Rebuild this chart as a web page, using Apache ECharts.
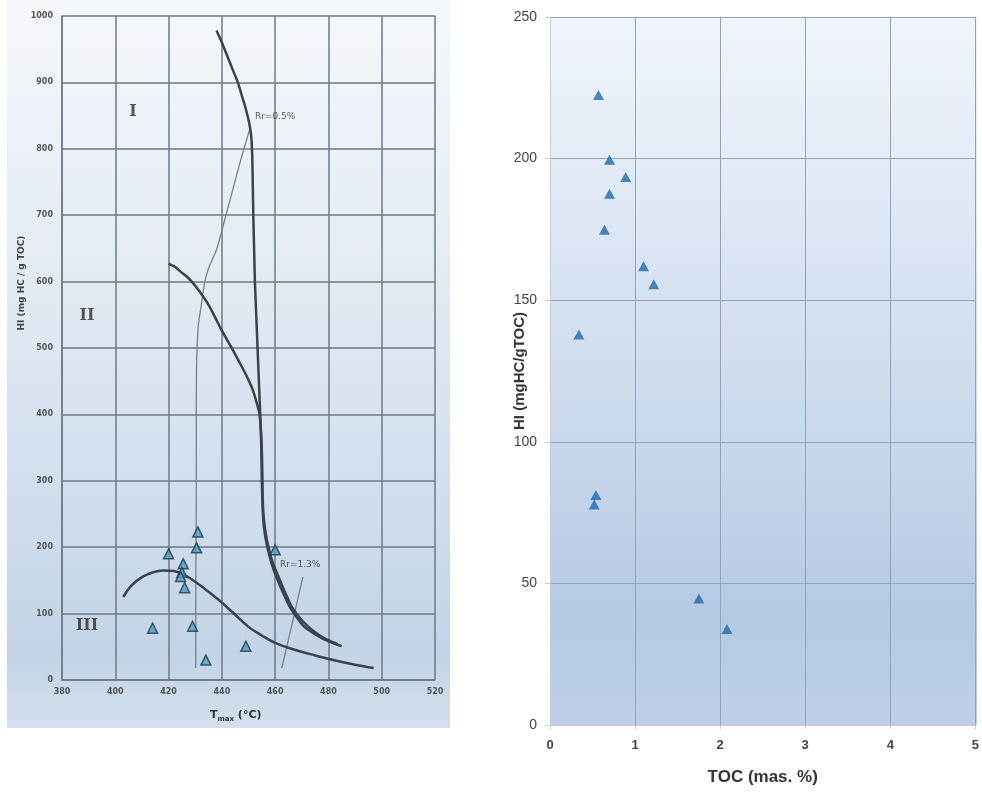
<!DOCTYPE html>
<html>
<head>
<meta charset="utf-8">
<script src="https://cdn.jsdelivr.net/npm/echarts@6/dist/echarts.min.js"></script>
<style>
html,body{margin:0;padding:0;background:#fff;}
#c{width:982px;height:798px;}
</style>
</head>
<body>
<div id="c"></div>
<script>
// ---- Left panel: HI vs Tmax ----
const tmaxTicks = [380, 400, 420, 440, 460, 480, 500, 520];
const hiTicksLeft = [0, 100, 200, 300, 400, 500, 600, 700, 800, 900, 1000];
const curveTypeI = [[438,978],[440,960],[442,940],[444,920],[446,900],[447.5,880],[449,860],[450.2,840],[451,820],[451.4,790],[451.6,750],[451.8,700],[452.1,650],[452.4,600],[452.9,550],[453.4,500],[453.9,450],[454.4,400],[454.8,350],[455,300],[455.3,260],[455.8,230],[456.8,205],[458,185],[459.5,165],[461.5,145],[463.5,127],[465.5,110],[468,95],[471,80],[474.5,70],[478,62],[481.5,56],[485,51]];
const curveTypeII = [[420,627],[422.5,622],[424.5,615],[426.7,608],[428.7,600],[431.5,586],[434.4,569],[437,550],[439.5,530],[442,512],[444,498],[446,483],[448,468],[450,452],[451.6,437],[452.9,420],[454,403],[454.6,380],[455,347],[455.2,310],[455.3,280],[455.6,250],[456.3,225],[457.5,200],[459,178],[461,158],[463.5,134],[466,112],[469,95],[472,82],[475,72],[478,64],[481,58],[483.5,54]];
const curveTypeIII = [[403,125],[406,142],[410,155],[414,162],[418,165],[422,164],[426,158],[430,148],[434,136],[439,120],[444,102],[450,80],[455,67],[460,56],[467,46],[475,37],[483,29],[490,23],[497,18]];
const lineRr05 = [[430.2,18],[430.2,100],[430.3,200],[430.4,300],[430.4,420],[430.5,470],[430.7,500],[431.2,535],[432,557],[432.8,580],[433.6,600],[435,620],[436.6,635],[438.1,649],[441,692],[444,737],[447,782],[450.5,830]];
const lineRr13 = [[462.5,18],[470.4,155]];
const sampleTmax = [420, 431, 430.5, 425.5, 425, 424.5, 426, 414, 429, 434, 449, 460];
const sampleHI_T = [190, 223, 199, 175, 162, 156, 139, 78, 81, 30, 51, 196];
const zoneLabels = [['I', 406.6, 855], ['II', 389.4, 549], ['III', 389.4, 81]];
const rrLabels = [['Rr=0.5%', 452.4, 848], ['Rr=1.3%', 461.8, 173]];

// ---- Right panel: HI vs TOC ----
const tocTicks = [0, 1, 2, 3, 4, 5];
const hiTicksRight = [0, 50, 100, 150, 200, 250];
const sampleTOC = [0.57, 0.70, 0.89, 0.70, 0.64, 1.10, 1.22, 0.34, 0.54, 0.52, 1.75, 2.08];
const sampleHI = [222.5, 199.6, 193.5, 187.6, 174.9, 162, 155.6, 137.9, 81.2, 77.9, 44.7, 33.9];

const chart = echarts.init(document.getElementById('c'), null, {renderer: 'canvas'});
const narrow = "'Liberation Sans Narrow', 'Liberation Sans', Arial, sans-serif";
const curveStyle = {color: '#3a434c', width: 2.5};

const option = {
  animation: false,
  backgroundColor: '#ffffff',
  graphic: [
    {type: 'rect', z: -10, silent: true, shape: {x: 7, y: 0, width: 443, height: 728},
     style: {fill: new echarts.graphic.LinearGradient(0, 0, 0, 1, [
       {offset: 0, color: '#f5f8fb'}, {offset: 0.45, color: '#dfe8f2'},
       {offset: 0.9, color: '#c3d4e7'}, {offset: 1, color: '#d3dfec'}])}},
    {type: 'rect', z: -10, silent: true, shape: {x: 550, y: 17, width: 427, height: 708},
     style: {fill: new echarts.graphic.LinearGradient(0, 0, 0, 1, [
       {offset: 0, color: '#f0f5fb'}, {offset: 0.5, color: '#d0ddef'},
       {offset: 0.85, color: '#b4c9e3'}, {offset: 1, color: '#bdd0e7'}])}},
    {type: 'text', left: 210, top: 710, style: {
      text: '{t|T}{s|max}{t| (°C)}',
      rich: {t: {fontSize: 11, fontWeight: 'bold', fill: '#333', fontFamily: 'DejaVu Sans'},
             s: {fontSize: 7, fontWeight: 'bold', fill: '#333', padding: [8, 0, 0, 0], fontFamily: 'DejaVu Sans'}}}}
  ],
  grid: [
    {left: 62, right: 547, top: 16, bottom: 118},
    {left: 550, right: 5, top: 17, bottom: 73}
  ],
  xAxis: [
    {gridIndex: 0, type: 'value', min: tmaxTicks[0], max: tmaxTicks[tmaxTicks.length - 1], interval: 20,
     axisLine: {show: true, lineStyle: {color: '#6e7a84', width: 1.5}},
     axisTick: {show: false},
     axisLabel: {fontSize: 8, fontWeight: 'bold', color: '#555', margin: 8, fontFamily: 'DejaVu Sans',
       formatter: v => String(v)},
     splitLine: {show: true, lineStyle: {color: '#6e7a84', width: 1.5}}},
    {gridIndex: 1, type: 'value', min: tocTicks[0], max: tocTicks[tocTicks.length - 1], interval: 1,
     name: 'TOC (mas. %)', nameLocation: 'middle', nameGap: 44,
     nameTextStyle: {fontSize: 17, fontWeight: 'bold', color: '#333', fontFamily: narrow},
     axisLine: {show: true, lineStyle: {color: '#c8ccd0', width: 1}},
     axisTick: {show: true, length: 4, lineStyle: {color: '#c8ccd0'}},
     axisLabel: {fontSize: 13, fontWeight: 'bold', color: '#444', margin: 14, fontFamily: narrow,
       formatter: v => String(v)},
     splitLine: {show: true, lineStyle: {color: '#8fa3ba', width: 1}}}
  ],
  yAxis: [
    {gridIndex: 0, type: 'value', min: hiTicksLeft[0], max: hiTicksLeft[hiTicksLeft.length - 1], interval: 100,
     name: 'HI (mg HC / g TOC)', nameLocation: 'middle', nameGap: 36, nameRotate: 90,
     nameTextStyle: {fontSize: 9, fontWeight: 'bold', color: '#444', fontFamily: 'DejaVu Sans', padding: [0, 0, 0, 130]},
     axisLine: {show: true, lineStyle: {color: '#6e7a84', width: 1.5}},
     axisTick: {show: false},
     axisLabel: {fontSize: 8, fontWeight: 'bold', color: '#555', margin: 9, fontFamily: 'DejaVu Sans',
       formatter: v => String(v)},
     splitLine: {show: true, lineStyle: {color: '#6e7a84', width: 1.5}}},
    {gridIndex: 1, type: 'value', min: hiTicksRight[0], max: hiTicksRight[hiTicksRight.length - 1], interval: 50,
     name: 'HI (mgHC/gTOC)', nameLocation: 'middle', nameGap: 23, nameRotate: 90, nameMoveOverlap: false,
     nameTextStyle: {fontSize: 15, fontWeight: 'bold', color: '#333', fontFamily: narrow},
     axisLine: {show: true, lineStyle: {color: '#c8ccd0', width: 1}},
     axisTick: {show: true, length: 5, lineStyle: {color: '#c8ccd0'}},
     axisLabel: {fontSize: 14, color: '#444', margin: 13, fontFamily: narrow,
       formatter: v => String(v)},
     splitLine: {show: true, lineStyle: {color: '#8fa3ba', width: 1}}}
  ],
  series: [
    {type: 'line', xAxisIndex: 0, yAxisIndex: 0, data: lineRr05, smooth: 0.2, symbol: 'none',
     lineStyle: {color: '#76808a', width: 1.3}, z: 3},
    {type: 'line', xAxisIndex: 0, yAxisIndex: 0, data: lineRr13, symbol: 'none',
     lineStyle: {color: '#76808a', width: 1.3}, z: 3},
    {type: 'line', xAxisIndex: 0, yAxisIndex: 0, data: curveTypeI, smooth: 0.2, symbol: 'none',
     lineStyle: curveStyle, z: 4},
    {type: 'line', xAxisIndex: 0, yAxisIndex: 0, data: curveTypeII, smooth: 0.2, symbol: 'none',
     lineStyle: curveStyle, z: 4},
    {type: 'line', xAxisIndex: 0, yAxisIndex: 0, data: curveTypeIII, smooth: 0.4, symbol: 'none',
     lineStyle: curveStyle, z: 4},
    {type: 'scatter', xAxisIndex: 0, yAxisIndex: 0, symbol: 'triangle', symbolSize: [10, 10],
     data: sampleTmax.map((t, i) => [t, sampleHI_T[i]]),
     itemStyle: {color: '#4b9fc5', borderColor: '#1e3a4f', borderWidth: 1.5}, z: 5},
    {type: 'scatter', xAxisIndex: 0, yAxisIndex: 0, symbolSize: 0, silent: true,
     data: zoneLabels.map(d => ({value: [d[1], d[2]], name: d[0]})),
     label: {show: true, position: 'inside', formatter: p => p.name,
       fontSize: 16, fontWeight: 'bold', color: '#2c2c2c', fontFamily: 'DejaVu Serif'}, z: 6},
    {type: 'scatter', xAxisIndex: 0, yAxisIndex: 0, symbolSize: 0, silent: true,
     data: rrLabels.map(d => ({value: [d[1], d[2]], name: d[0]})),
     label: {show: true, position: 'right', distance: 0, formatter: p => p.name,
       fontSize: 9, color: '#333', fontFamily: 'DejaVu Sans'}, z: 6},
    {type: 'scatter', xAxisIndex: 1, yAxisIndex: 1, symbol: 'triangle', symbolSize: [11, 10],
     data: sampleTOC.map((t, i) => [t, sampleHI[i]]),
     itemStyle: {color: '#1c6aae'}, z: 5}
  ]
};
chart.setOption(option);
</script>
</body>
</html>
